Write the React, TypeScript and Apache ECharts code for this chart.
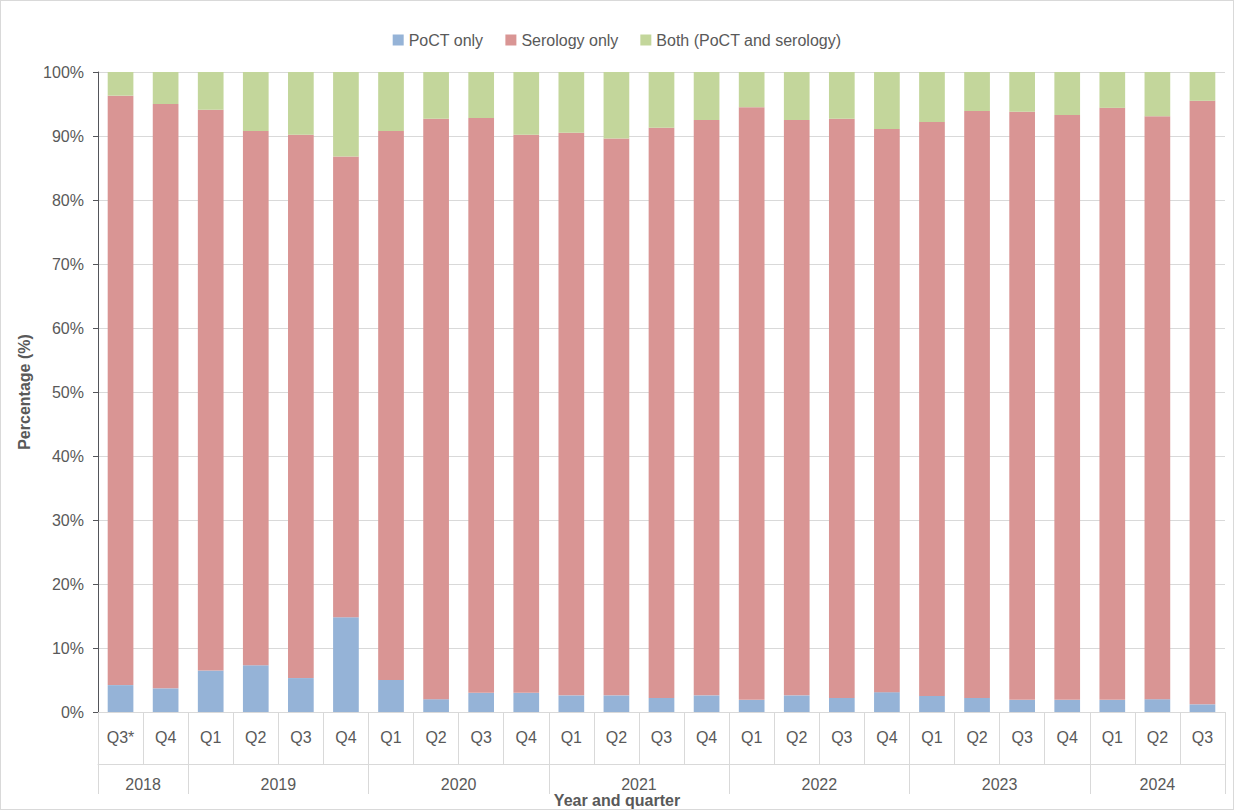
import React, { useEffect, useRef } from 'react';
import * as echarts from 'echarts';

const quarters = ['Q3*', 'Q4', 'Q1', 'Q2', 'Q3', 'Q4', 'Q1', 'Q2', 'Q3', 'Q4', 'Q1', 'Q2', 'Q3', 'Q4', 'Q1', 'Q2', 'Q3', 'Q4', 'Q1', 'Q2', 'Q3', 'Q4', 'Q1', 'Q2', 'Q3'];
const years = ['2018', '2019', '2020', '2021', '2022', '2023', '2024'];
const yearCentres = [1, 4, 8, 12, 16, 20, 23.5];
const yearBounds = [0, 2, 6, 10, 14, 18, 22, 25];
const pocOnly = [4.2, 3.7, 6.5, 7.3, 5.3, 14.8, 5.0, 2.0, 3.0, 3.0, 2.6, 2.6, 2.2, 2.6, 1.9, 2.6, 2.2, 3.1, 2.5, 2.2, 1.9, 1.9, 1.9, 2.0, 1.2];
const pocPlusSerology = [96.3, 95.0, 94.1, 90.8, 90.2, 86.8, 90.8, 92.7, 92.8, 90.2, 90.5, 89.6, 91.3, 92.5, 94.5, 92.5, 92.7, 91.1, 92.2, 93.9, 93.8, 93.3, 94.4, 93.1, 95.5];

const r1 = (v: number) => Math.round(v * 10) / 10;
const serologyOnly = pocPlusSerology.map((t, i) => r1(t - pocOnly[i]));
const both = pocPlusSerology.map((t) => r1(100 - t));

const font = 'Liberation Sans, Arial, sans-serif';
const txt = '#595959';

const App = () => {
  const ref = useRef<HTMLDivElement>(null);

  useEffect(() => {
    if (!ref.current) return;
    const chart = echarts.init(ref.current, null, { renderer: 'svg' });
    const bar = (name: string, data: number[], color: string) => ({
      name, type: 'bar', stack: 'a', data, barCategoryGap: '43%',
      itemStyle: { color },
    });
    chart.setOption({
      animation: false,
      textStyle: { fontFamily: font, color: txt },
      legend: {
        top: 26, left: 'center', itemWidth: 11, itemHeight: 11, itemGap: 22,
        icon: 'rect',
        textStyle: { fontSize: 16, color: txt, fontFamily: font },
      },
      grid: { left: 97, right: 8, top: 71, bottom: 97, outerBoundsMode: 'none', containLabel: false },
      graphic: [
        {
          type: 'text', left: 'center', bottom: 1,
          style: { text: 'Year and quarter', fontSize: 16, fontWeight: 'bold', fill: txt, fontFamily: font },
        },
      ],
      xAxis: [
        {
          type: 'category', data: quarters, position: 'bottom',
          axisLine: { lineStyle: { color: '#d9d9d9' } },
          axisTick: { show: true, interval: 0, length: 52, lineStyle: { color: '#d9d9d9' } },
          axisLabel: { interval: 0, fontSize: 16, color: txt, margin: 17 },
        },
        {
          type: 'value', min: 0, max: 25, position: 'bottom', offset: 52,
          axisLine: { show: true, lineStyle: { color: '#d9d9d9' } },
          splitLine: { show: false },
          axisTick: { show: true, length: 30, customValues: yearBounds, lineStyle: { color: '#d9d9d9' } },
          axisLabel: {
            fontSize: 16, color: txt, margin: 12, customValues: yearCentres,
            formatter: (v: number) => years[yearCentres.indexOf(v)] ?? '',
          },
        },
      ],
      yAxis: {
        type: 'value', min: 0, max: 100, interval: 10,
        axisLabel: { formatter: '{value}%', fontSize: 16, color: txt, margin: 14 },
        splitLine: { lineStyle: { color: '#d9d9d9' } },
        name: 'Percentage (%)', nameLocation: 'middle', nameGap: 62,
        nameTextStyle: { fontSize: 16, fontWeight: 'bold', color: txt },
      },
      series: [
        bar('PoCT only', pocOnly, '#95B3D7'),
        bar('Serology only', serologyOnly, '#D99594'),
        bar('Both (PoCT and serology)', both, '#C3D69B'),
      ],
    });
    return () => chart.dispose();
  }, []);

  return (
    <div style={{ position: 'absolute', left: 0, top: 0, width: 1234, height: 810, background: '#fff', boxSizing: 'border-box', border: '1px solid #d9d9d9' }}>
      <div ref={ref} style={{ width: '100%', height: '100%' }} />
    </div>
  );
};

export default App;
